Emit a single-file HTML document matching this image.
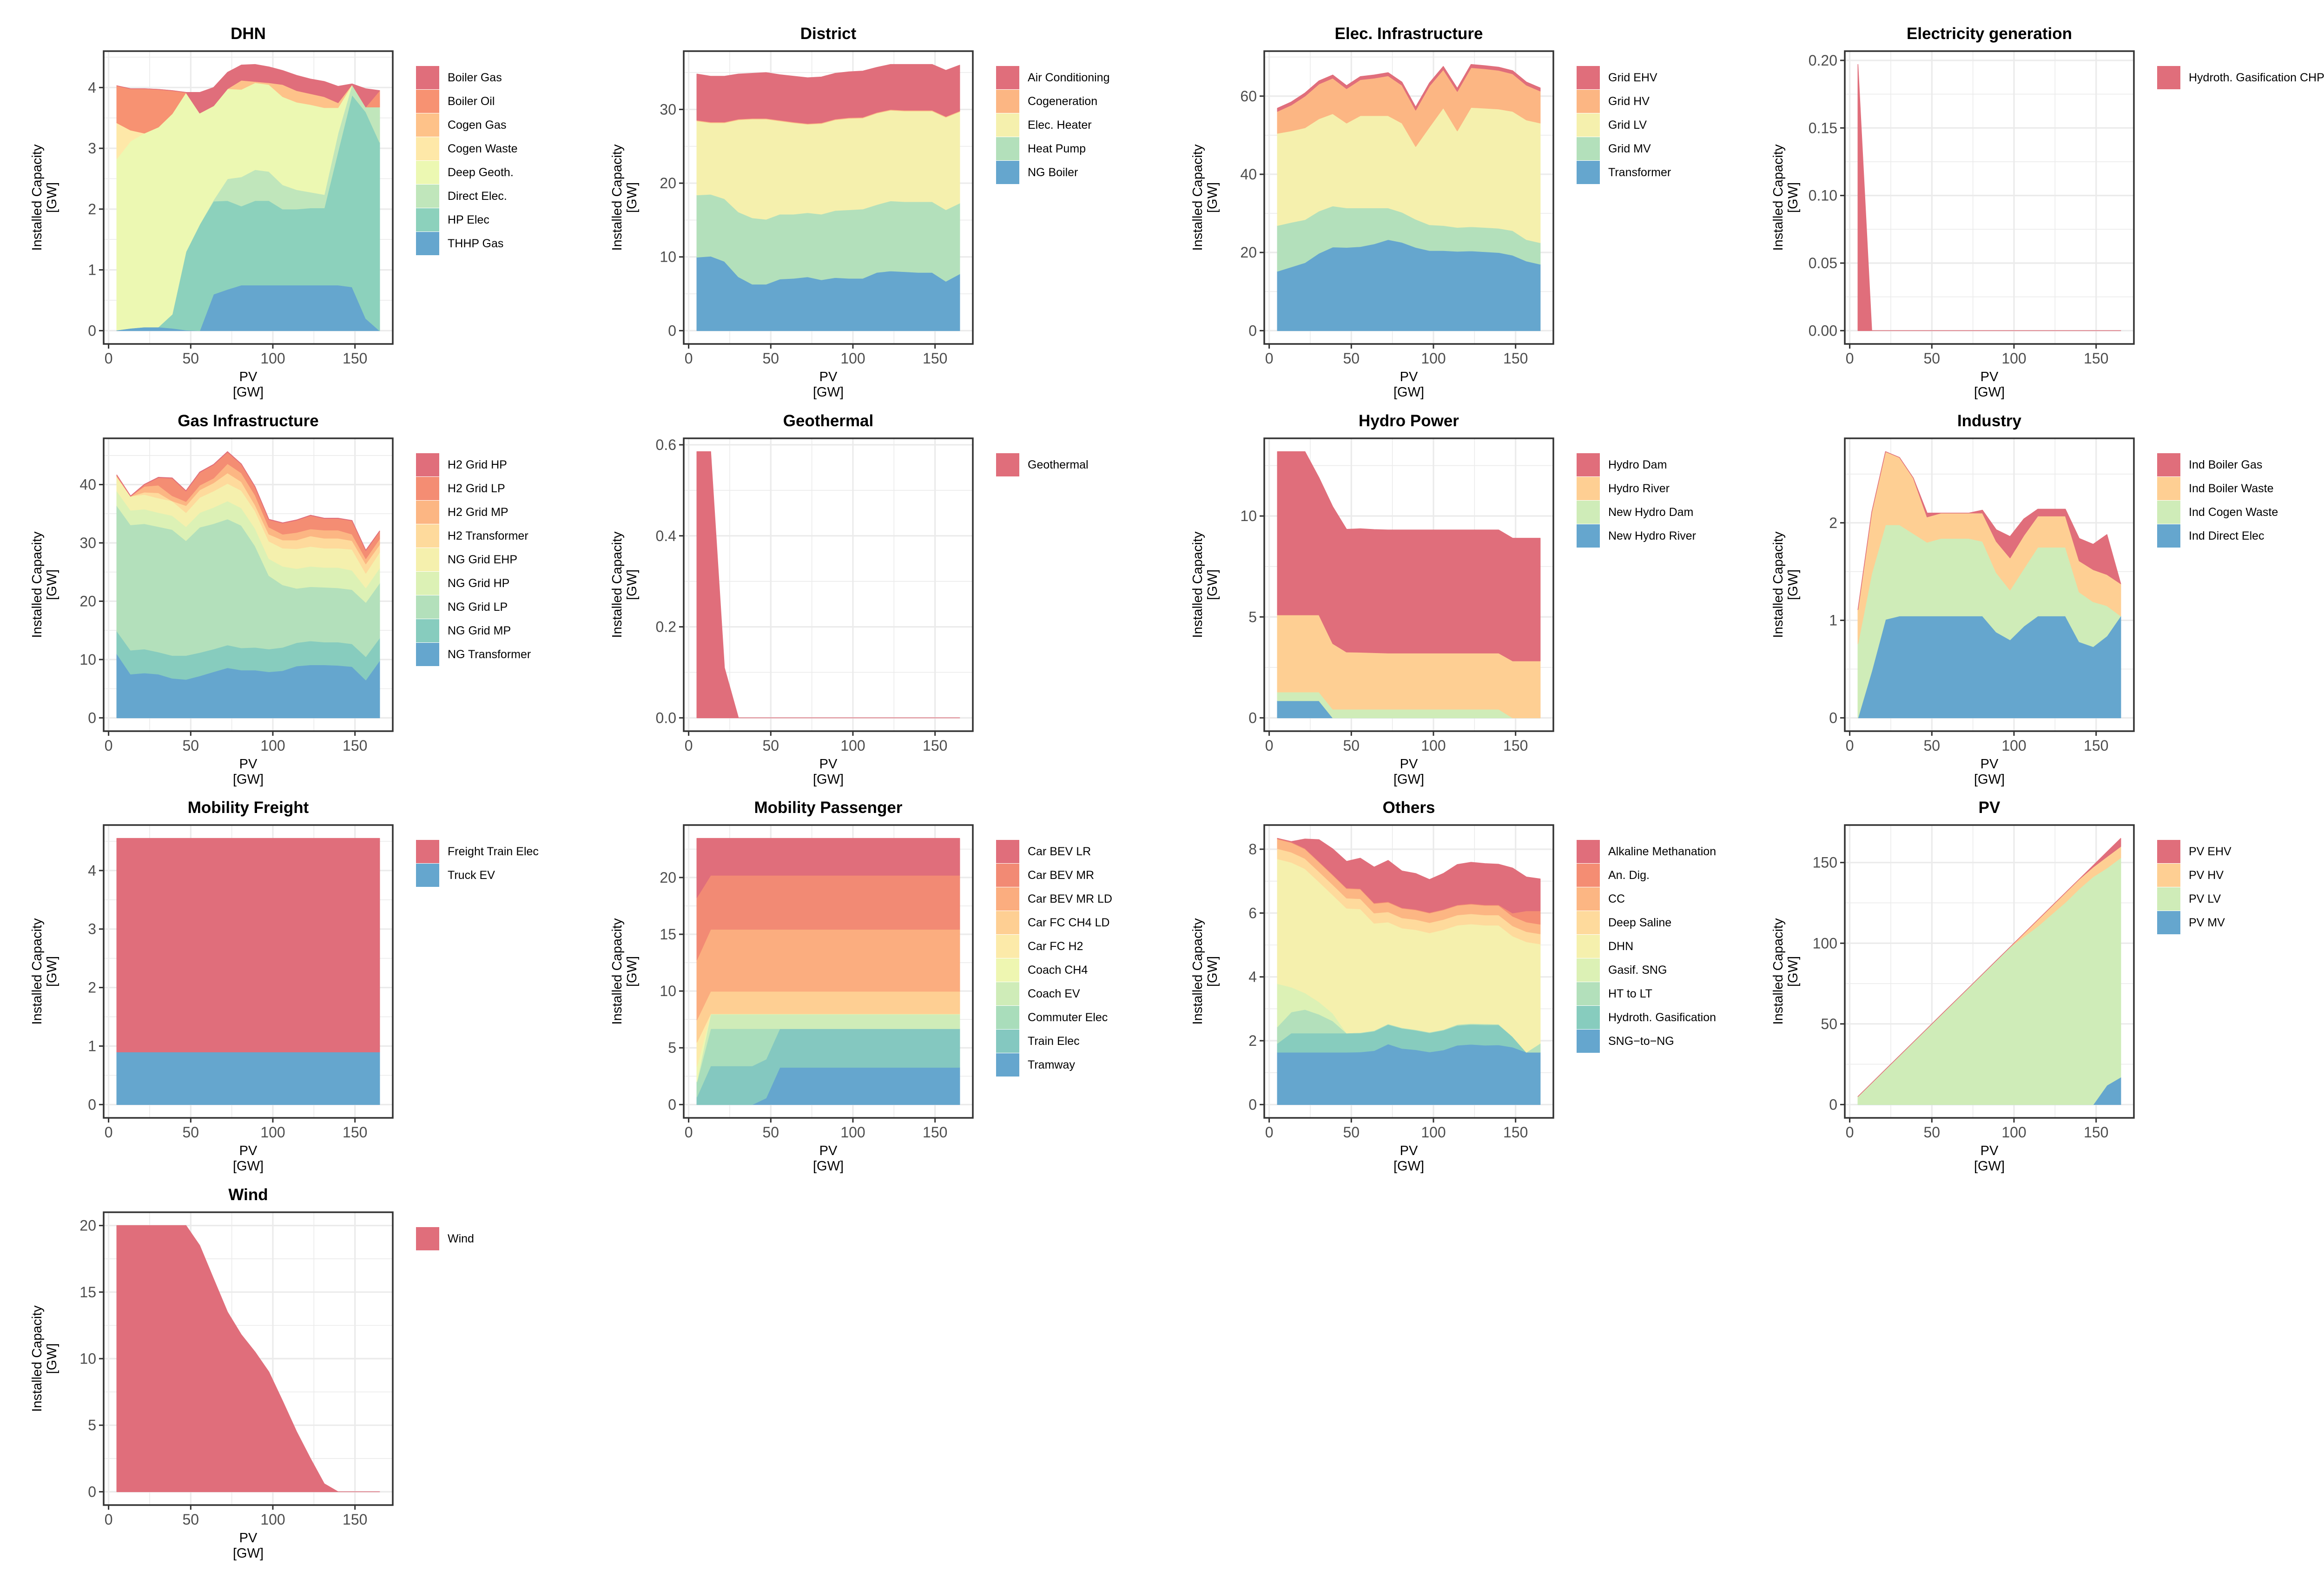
<!DOCTYPE html>
<html><head><meta charset="utf-8">
<style>
html,body{margin:0;padding:0;background:#fff;}
svg{display:block;font-family:"Liberation Sans",Arial,sans-serif;}
</style></head>
<body>
<svg id="chart" width="5037" height="3382" viewBox="0 0 5037 3382" xmlns="http://www.w3.org/2000/svg">
<rect x="0" y="0" width="5037" height="3382" fill="#ffffff"/>
</svg>
<script>
// ---------- shared x values (PV scenarios, GW) ----------
const pvValues = [5,13.4,21.8,30.3,38.7,47.1,55.5,63.9,72.4,80.8,89.2,97.6,106,114.5,122.9,131.3,139.7,148.2,156.6,165];

// ---------- DHN ----------
const dhnNames = ["Boiler Gas","Boiler Oil","Cogen Gas","Cogen Waste","Deep Geoth.","Direct Elec.","HP Elec","THHP Gas"];
const dhnBoilerGas = [0,0,0,0,0,0,0.34,0.3,0.27,0.25,0.28,0.26,0.23,0.25,0.24,0.25,0.27,0.01,0.3,0];
const dhnBoilerOil = [0.61,0.68,0.73,0.62,0.38,0,0,0,0,0,0,0,0,0,0,0,0,0,0,0.27];
const dhnCogenGas = [0,0,0,0,0,0,0,0,0,0.15,0.02,0.03,0.2,0.19,0.18,0.18,0.08,0,0,0];
const dhnCogenWaste = [0.59,0.18,0,0,0,0,0,0,0,0,0,0,0,0,0,0,0,0,0,0];
const dhnDeepGeoth = [2.82,3.08,3.19,3.29,3.3,2.62,1.83,1.55,1.48,1.44,1.43,1.43,1.45,1.44,1.44,1.43,0.42,0,0,0];
const dhnDirectElec = [0,0,0,0,0,0,0,0.02,0.36,0.48,0.51,0.48,0.4,0.32,0.26,0.22,0.3,0.17,0.08,0.58];
const dhnHpElec = [0,0,0,0,0.23,1.29,1.75,1.53,1.46,1.3,1.39,1.39,1.25,1.25,1.27,1.27,2.2,3.16,3.4,3.1];
const dhnThhpGas = [0.01,0.04,0.06,0.06,0.04,0.01,0,0.6,0.68,0.75,0.75,0.75,0.75,0.75,0.75,0.75,0.75,0.72,0.2,0];
const dhnTicks = [0,1,2,3,4];

// ---------- District ----------
const distNames = ["Air Conditioning","Cogeneration","Elec. Heater","Heat Pump","NG Boiler"];
const distAirCond = [6.25,6.2,6.2,6.1,6.1,6.2,6.15,6.2,6.2,6.2,6.2,6.2,6.25,6.1,6.1,6.2,6.2,6.2,6.25,6.2];
const distCogen = [0.1,0.1,0.1,0.1,0.1,0.1,0.1,0.1,0.1,0.1,0.1,0.1,0.1,0.1,0.1,0.1,0.1,0.1,0.1,0.1];
const distElecHeater = [10.05,9.7,10.3,12.5,13.4,13.6,12.65,12.4,12.0,12.3,12.3,12.4,12.35,12.4,12.3,12.3,12.3,12.3,12.55,12.4];
const distHeatPump = [8.43,8.4,8.5,8.8,9.0,8.8,8.8,8.7,8.7,8.9,9.1,9.3,9.4,9.2,9.5,9.5,9.6,9.6,9.7,9.6];
const distNgBoiler = [9.97,10.1,9.4,7.3,6.3,6.3,7.0,7.1,7.3,6.9,7.2,7.1,7.1,7.9,8.1,8.0,7.9,7.9,6.7,7.7];
const distTicks = [0,10,20,30];

// ---------- Elec. Infrastructure ----------
const elecNames = ["Grid EHV","Grid HV","Grid LV","Grid MV","Transformer"];
const elecGridEhv = [0.8,0.8,0.8,0.8,0.8,0.8,0.8,0.8,0.8,0.8,0.8,0.8,0.8,0.8,0.8,0.8,0.8,0.8,0.8,0.8];
const elecGridHv = [5.6,6.6,8.1,8.9,9.1,8.8,9.2,9.6,10.2,9.7,9.3,10.5,9.8,10.1,10.2,10.1,9.9,9.6,8.9,8.2];
const elecGridLv = [23.6,23.4,23.5,23.6,23.6,21.7,23.6,23.6,23.6,22.8,18.6,25.0,30.1,24.7,30.5,30.5,30.5,30.5,30.6,30.6];
const elecGridMv = [11.7,11.4,11.0,10.8,10.5,10.1,9.9,9.2,8.1,7.7,7.2,6.6,6.4,6.1,6.2,6.2,6.2,6.3,5.5,5.5];
const elecTransformer = [15.2,16.3,17.4,19.8,21.4,21.3,21.5,22.2,23.3,22.6,21.3,20.5,20.5,20.3,20.4,20.2,20.0,19.3,17.8,17.0];
const elecTicks = [0,20,40,60];

// ---------- Electricity generation ----------
const genNames = ["Hydroth. Gasification CHP"];
const genHydrothChp = [0.197,0,0,0,0,0,0,0,0,0,0,0,0,0,0,0,0,0,0,0];
const genTicks = [0,0.05,0.10,0.15,0.20];

// ---------- Gas Infrastructure ----------
const gasNames = ["H2 Grid HP","H2 Grid LP","H2 Grid MP","H2 Transformer","NG Grid EHP","NG Grid HP","NG Grid LP","NG Grid MP","NG Transformer"];
const gasH2Hp = [0.05,0.05,0.05,0.05,0.05,0.05,0.05,0.05,0.05,0.05,0.05,0.05,0.05,0.05,0.05,0.05,0.05,0.05,0.05,0.05];
const gasH2Lp = [0.1,0,0.3,1.3,3.0,1.8,2.2,2.3,2.0,1.5,1.4,1.3,1.9,2.1,2.3,2.0,2.0,2.3,1.4,1.3];
const gasH2Mp = [0.1,0,1.0,1.3,0.9,0.7,0.8,0.8,1.6,1.5,1.7,1.2,1.0,1.3,1.2,1.4,1.4,1.1,0.9,1.0];
const gasH2Transformer = [0.1,0,0.4,0.9,0,1.2,1.3,1.4,1.8,1.5,1.0,1.2,1.4,1.5,1.8,1.7,1.7,1.5,1.6,1.3];
const gasNgEhp = [2.4,2.4,2.5,2.5,2.5,2.4,2.6,2.8,3.0,3.0,3.0,3.0,3.1,3.4,3.4,3.3,3.3,3.6,2.5,2.7];
const gasNgHp = [2.5,2.5,2.5,2.4,2.4,2.4,2.5,2.8,3.1,3.0,3.0,2.9,3.2,3.4,3.5,3.4,3.5,3.3,2.5,2.6];
const gasNgLp = [21.5,21.5,21.5,21.5,21.6,19.7,21.5,21.5,21.6,21.0,17.4,12.6,10.7,9.3,9.3,9.4,9.3,9.3,9.3,9.4];
const gasNgMp = [3.9,4.1,4.1,3.8,3.9,4.1,4.0,3.9,3.9,3.8,3.9,3.9,4.0,4.0,4.1,3.9,4.0,3.9,4.0,3.9];
const gasNgTransformer = [11.0,7.5,7.7,7.5,6.8,6.6,7.2,7.9,8.6,8.2,8.2,7.9,8.1,8.9,9.1,9.1,9.0,8.8,6.5,9.8];
const gasTicks = [0,10,20,30,40];

// ---------- Geothermal ----------
const geoNames = ["Geothermal"];
const geoGeothermal = [0.585,0.585,0.11,0,0,0,0,0,0,0,0,0,0,0,0,0,0,0,0,0];
const geoTicks = [0,0.2,0.4,0.6];

// ---------- Hydro Power ----------
const hydroNames = ["Hydro Dam","Hydro River","New Hydro Dam","New Hydro River"];
const hydroDam = [8.09,8.09,8.09,6.8,6.78,6.08,6.12,6.1,6.1,6.1,6.1,6.1,6.1,6.1,6.1,6.1,6.1,6.08,6.08,6.08];
const hydroRiver = [3.82,3.82,3.82,3.82,3.25,2.83,2.82,2.8,2.78,2.78,2.78,2.78,2.78,2.78,2.78,2.78,2.78,2.82,2.82,2.82];
const hydroNewDam = [0.43,0.43,0.43,0.43,0.43,0.43,0.43,0.43,0.43,0.43,0.43,0.43,0.43,0.43,0.43,0.43,0.43,0,0,0];
const hydroNewRiver = [0.85,0.85,0.85,0.85,0,0,0,0,0,0,0,0,0,0,0,0,0,0,0,0];
const hydroTicks = [0,5,10];

// ---------- Industry ----------
const indNames = ["Ind Boiler Gas","Ind Boiler Waste","Ind Cogen Waste","Ind Direct Elec"];
const indBoilerGas = [0,0,0,0,0,0.04,0,0,0,0.03,0.12,0.22,0.17,0.07,0.07,0.07,0.23,0.26,0.41,0];
const indBoilerWaste = [0.35,0.63,0.75,0.69,0.57,0.26,0.26,0.26,0.26,0.29,0.32,0.33,0.34,0.32,0.32,0.32,0.32,0.33,0.32,0.33];
const indCogenWaste = [0.76,1.0,0.97,0.935,0.845,0.755,0.795,0.795,0.795,0.765,0.61,0.51,0.59,0.705,0.705,0.705,0.51,0.46,0.31,0];
const indDirectElec = [0,0.48,1.01,1.045,1.045,1.045,1.045,1.045,1.045,1.045,0.88,0.8,0.94,1.045,1.045,1.045,0.78,0.73,0.84,1.045];
const indTicks = [0,1,2];

// ---------- Mobility Freight ----------
const frNames = ["Freight Train Elec","Truck EV"];
const frTrain = [3.65,3.65,3.65,3.65,3.65,3.65,3.65,3.65,3.65,3.65,3.65,3.65,3.65,3.65,3.65,3.65,3.65,3.65,3.65,3.65];
const frTruck = [0.9,0.9,0.9,0.9,0.9,0.9,0.9,0.9,0.9,0.9,0.9,0.9,0.9,0.9,0.9,0.9,0.9,0.9,0.9,0.9];
const frTicks = [0,1,2,3,4];

// ---------- Mobility Passenger ----------
const paxNames = ["Car BEV LR","Car BEV MR","Car BEV MR LD","Car FC CH4 LD","Car FC H2","Coach CH4","Coach EV","Commuter Elec","Train Elec","Tramway"];
const paxBevLr = [5.21,3.25,3.25,3.25,3.25,3.25,3.25,3.25,3.25,3.25,3.25,3.25,3.25,3.25,3.25,3.25,3.25,3.25,3.25,3.25];
const paxBevMr = [5.49,4.76,4.76,4.76,4.76,4.76,4.76,4.76,4.76,4.76,4.76,4.76,4.76,4.76,4.76,4.76,4.76,4.76,4.76,4.76];
const paxBevMrLd = [5.29,5.46,5.46,5.46,5.46,5.46,5.46,5.46,5.46,5.46,5.46,5.46,5.46,5.46,5.46,5.46,5.46,5.46,5.46,5.46];
const paxFcCh4Ld = [1.97,1.98,1.98,1.98,1.98,1.98,1.98,1.98,1.98,1.98,1.98,1.98,1.98,1.98,1.98,1.98,1.98,1.98,1.98,1.98];
const paxFcH2 = [2.13,0,0,0,0,0,0,0,0,0,0,0,0,0,0,0,0,0,0,0];
const paxCoachCh4 = [1.31,0.03,0.03,0.03,0.03,0.03,0.03,0.03,0.03,0.03,0.03,0.03,0.03,0.03,0.03,0.03,0.03,0.03,0.03,0.03];
const paxCoachEv = [0.05,1.28,1.28,1.28,1.28,1.28,1.28,1.28,1.28,1.28,1.28,1.28,1.28,1.28,1.28,1.28,1.28,1.28,1.28,1.28];
const paxCommuter = [1.32,3.28,3.28,3.28,3.28,2.69,0,0,0,0,0,0,0,0,0,0,0,0,0,0];
const paxTrain = [0.68,3.41,3.41,3.41,3.41,3.42,3.41,3.41,3.41,3.41,3.41,3.41,3.41,3.41,3.41,3.41,3.41,3.41,3.41,3.41];
const paxTramway = [0,0,0,0,0,0.58,3.28,3.28,3.28,3.28,3.28,3.28,3.28,3.28,3.28,3.28,3.28,3.28,3.28,3.28];
const paxTicks = [0,5,10,15,20];

// ---------- Others ----------
const othNames = ["Alkaline Methanation","An. Dig.","CC","Deep Saline","DHN","Gasif. SNG","HT to LT","Hydroth. Gasification","SNG\u2212to\u2212NG"];
const othAlkMeth = [0,0.01,0.29,0.68,0.8,0.83,0.95,1.12,1.29,1.15,1.12,1.03,1.12,1.26,1.29,1.29,1.27,1.41,1.06,1.0];
const othAnDig = [0.02,0.02,0.02,0.02,0.02,0.02,0.02,0.02,0.02,0.02,0.02,0.02,0.02,0.02,0.02,0.02,0.02,0.1,0.35,0.42];
const othCc = [0.3,0.3,0.3,0.3,0.3,0.3,0.3,0.3,0.3,0.3,0.3,0.3,0.3,0.3,0.3,0.3,0.3,0.3,0.3,0.3];
const othDeepSaline = [0.32,0.32,0.32,0.32,0.32,0.32,0.32,0.32,0.32,0.32,0.32,0.32,0.32,0.32,0.32,0.32,0.32,0.32,0.32,0.32];
const othDhn = [3.91,3.91,3.89,3.76,3.71,3.91,3.87,3.36,3.19,3.12,3.13,3.11,3.13,3.11,3.12,3.09,3.1,3.15,3.46,3.11];
const othGasifSng = [1.35,0.78,0.52,0.39,0.24,0,0,0,0,0,0,0,0,0,0,0,0,0,0,0];
const othHtToLt = [0.52,0.66,0.74,0.59,0.38,0,0.02,0.02,0.02,0.02,0.02,0.02,0.02,0.03,0.03,0.03,0.02,0,0,0.28];
const othHydrothGasif = [0.28,0.6,0.6,0.6,0.6,0.6,0.59,0.61,0.61,0.63,0.61,0.6,0.62,0.62,0.62,0.64,0.63,0.33,0,0];
const othSngToNg = [1.64,1.64,1.64,1.64,1.64,1.64,1.65,1.69,1.9,1.76,1.72,1.65,1.71,1.86,1.89,1.86,1.87,1.8,1.64,1.64];
const othTicks = [0,2,4,6,8];

// ---------- PV ----------
const pvNames = ["PV EHV","PV HV","PV LV","PV MV"];
const pvEhv = [0,0,0,0,0,0,0,0,0,0,0,0,0,0,0,0,0,1,3,5];
const pvHv = [0,0,0,0,0,0,0,0,0,0,0,0,2,4,5,6,6,6,7,7];
const pvLv = [5,13.4,21.8,30.3,38.7,47.1,55.5,63.9,72.4,80.8,89.2,97.6,104,110.5,117.9,125.3,133.7,141.2,134.6,136];
const pvMv = [0,0,0,0,0,0,0,0,0,0,0,0,0,0,0,0,0,0,12,17];
const pvTicks = [0,50,100,150];

// ---------- Wind ----------
const windNames = ["Wind"];
const windWind = [20,20,20,20,20,20,18.5,16,13.5,11.8,10.5,9,6.8,4.5,2.5,0.6,0,0,0,0];
const windTicks = [0,5,10,15,20];

const xTicks = [0,50,100,150];
const xMinor = [25,75,125];

// panel definitions (legend order: top of stack first)
const panels = [
 {title:"DHN", names:dhnNames, series:[dhnBoilerGas,dhnBoilerOil,dhnCogenGas,dhnCogenWaste,dhnDeepGeoth,dhnDirectElec,dhnHpElec,dhnThhpGas], ticks:dhnTicks, dec:0},
 {title:"District", names:distNames, series:[distAirCond,distCogen,distElecHeater,distHeatPump,distNgBoiler], ticks:distTicks, dec:0},
 {title:"Elec. Infrastructure", names:elecNames, series:[elecGridEhv,elecGridHv,elecGridLv,elecGridMv,elecTransformer], ticks:elecTicks, dec:0},
 {title:"Electricity generation", names:genNames, series:[genHydrothChp], ticks:genTicks, dec:2},
 {title:"Gas Infrastructure", names:gasNames, series:[gasH2Hp,gasH2Lp,gasH2Mp,gasH2Transformer,gasNgEhp,gasNgHp,gasNgLp,gasNgMp,gasNgTransformer], ticks:gasTicks, dec:0},
 {title:"Geothermal", names:geoNames, series:[geoGeothermal], ticks:geoTicks, dec:1},
 {title:"Hydro Power", names:hydroNames, series:[hydroDam,hydroRiver,hydroNewDam,hydroNewRiver], ticks:hydroTicks, dec:0},
 {title:"Industry", names:indNames, series:[indBoilerGas,indBoilerWaste,indCogenWaste,indDirectElec], ticks:indTicks, dec:0},
 {title:"Mobility Freight", names:frNames, series:[frTrain,frTruck], ticks:frTicks, dec:0},
 {title:"Mobility Passenger", names:paxNames, series:[paxBevLr,paxBevMr,paxBevMrLd,paxFcCh4Ld,paxFcH2,paxCoachCh4,paxCoachEv,paxCommuter,paxTrain,paxTramway], ticks:paxTicks, dec:0},
 {title:"Others", names:othNames, series:[othAlkMeth,othAnDig,othCc,othDeepSaline,othDhn,othGasifSng,othHtToLt,othHydrothGasif,othSngToNg], ticks:othTicks, dec:0},
 {title:"PV", names:pvNames, series:[pvEhv,pvHv,pvLv,pvMv], ticks:pvTicks, dec:0},
 {title:"Wind", names:windNames, series:[windWind], ticks:windTicks, dec:0}
];

const COLS=[223,1471,2720,3969], ROWS=[110,943,1775,2608], PW=622, PH=630;
const SPECTRAL=["#D53E4F","#F46D43","#FDAE61","#FEE08B","#E6F598","#ABDDA4","#66C2A5","#3288BD"];
const NS="http://www.w3.org/2000/svg";
const svg=document.getElementById("chart");

function hex2rgb(h){return [parseInt(h.substr(1,2),16),parseInt(h.substr(3,2),16),parseInt(h.substr(5,2),16)];}
function ramp(n){
  const out=[];
  for(let i=0;i<n;i++){
    const t = n===1?0:i/(n-1)*(SPECTRAL.length-1);
    const a=Math.floor(t), b=Math.min(a+1,SPECTRAL.length-1), f=t-a;
    const ca=hex2rgb(SPECTRAL[a]), cb=hex2rgb(SPECTRAL[b]);
    const c=ca.map((v,k)=>Math.round((v+(cb[k]-v)*f)*0.75+255*0.25));
    out.push("rgb("+c.join(",")+")");
  }
  return out;
}
function mk(tag,attrs,parent){
  const e=document.createElementNS(NS,tag);
  for(const k in attrs) e.setAttribute(k,attrs[k]);
  (parent||svg).appendChild(e);
  return e;
}
function slug(s){return s.toLowerCase().replace(/[^a-z0-9]+/g,"-").replace(/^-|-$/g,"");}

panels.forEach((p,pi)=>{
  const L=COLS[pi%4], T=ROWS[Math.floor(pi/4)];
  const g=mk("g",{});
  
  
  const n=p.series.length;
  // stacked totals
  const totals=pvValues.map((_,i)=>p.series.reduce((s,a)=>s+a[i],0));
  const ymax=Math.max(...totals, p.ticks[p.ticks.length-1]*0 );
  const lo=-0.05*ymax, hi=1.05*ymax;
  const sx=x=>L+(x+3)/176*PW;
  const sy=y=>T+PH-(y-lo)/(hi-lo)*PH;

  // gridlines
  xMinor.forEach(v=>{
    const ln=mk("line",{x1:sx(v),x2:sx(v),y1:T,y2:T+PH,stroke:"#ebebeb","stroke-width":1.6},g);
    
    
  });
  const step=p.ticks[1]-p.ticks[0];
  const yMinor=[];
  p.ticks.forEach(v=>{const m=v+step/2; if(m<hi) yMinor.push(m);});
  yMinor.forEach(v=>{
    const ln=mk("line",{x1:L,x2:L+PW,y1:sy(v),y2:sy(v),stroke:"#ebebeb","stroke-width":1.6},g);
    
    
  });
  xTicks.forEach(v=>{
    const ln=mk("line",{x1:sx(v),x2:sx(v),y1:T,y2:T+PH,stroke:"#ebebeb","stroke-width":3.2},g);
    
    
  });
  p.ticks.forEach(v=>{
    const ln=mk("line",{x1:L,x2:L+PW,y1:sy(v),y2:sy(v),stroke:"#ebebeb","stroke-width":3.2},g);
    
    
  });

  // areas (bottom series = last)
  const cols=ramp(n);
  const base=pvValues.map(()=>0);
  for(let s=n-1;s>=0;s--){
    const vals=p.series[s];
    const top=base.map((b,i)=>b+vals[i]);
    let d="M";
    pvValues.forEach((x,i)=>{d+=(i?" L":"")+sx(x).toFixed(1)+","+sy(top[i]).toFixed(1);});
    for(let i=pvValues.length-1;i>=0;i--) d+=" L"+sx(pvValues[i]).toFixed(1)+","+sy(base[i]).toFixed(1);
    d+=" Z";
    const path=mk("path",{d:d,fill:cols[s],stroke:cols[s],"stroke-width":1.5,"stroke-linejoin":"round"},g);
    
    
    for(let i=0;i<base.length;i++) base[i]=top[i];
  }

  // border
  const br=mk("rect",{x:L,y:T,width:PW,height:PH,fill:"none",stroke:"#333333","stroke-width":3.5},g);
  
  

  // y ticks
  p.ticks.forEach(v=>{
    const tk=mk("line",{x1:L-10,x2:L,y1:sy(v),y2:sy(v),stroke:"#333333","stroke-width":3},g);
    
    
    const tx=mk("text",{x:L-16,y:sy(v),"text-anchor":"end","dominant-baseline":"central","font-size":32,fill:"#4d4d4d"},g);
    tx.textContent=v.toFixed(p.dec);
    
    
  });
  // x ticks
  xTicks.forEach(v=>{
    const tk=mk("line",{x1:sx(v),x2:sx(v),y1:T+PH,y2:T+PH+10,stroke:"#333333","stroke-width":3},g);
    
    
    const tx=mk("text",{x:sx(v),y:T+PH+42,"text-anchor":"middle","font-size":32,fill:"#4d4d4d"},g);
    tx.textContent=String(v);
    
    
  });

  // titles
  const tt=mk("text",{x:L+PW/2,y:T-26,"text-anchor":"middle","font-size":35,"font-weight":"bold",fill:"#000"},g);
  tt.textContent=p.title;
  
  
  const xt1=mk("text",{x:L+PW/2,y:T+PH+80,"text-anchor":"middle","font-size":29,fill:"#000"},g);
  xt1.textContent="PV";
  
  
  const xt2=mk("text",{x:L+PW/2,y:T+PH+113,"text-anchor":"middle","font-size":29,fill:"#000"},g);
  xt2.textContent="[GW]";
  
  
  const cy=T+PH/2;
  const yt1=mk("text",{x:L-143,y:cy,"text-anchor":"middle","dominant-baseline":"central","font-size":29,fill:"#000",transform:"rotate(-90 "+(L-143)+" "+cy+")"},g);
  yt1.textContent="Installed Capacity";
  
  
  const yt2=mk("text",{x:L-111,y:cy,"text-anchor":"middle","dominant-baseline":"central","font-size":29,fill:"#000",transform:"rotate(-90 "+(L-111)+" "+cy+")"},g);
  yt2.textContent="[GW]";
  
  

  // legend
  p.names.forEach((nm,k)=>{
    const ky=T+32+k*51;
    const r=mk("rect",{x:L+PW+50,y:ky,width:50,height:50,fill:cols[k]},g);
    
    
    const tx=mk("text",{x:L+PW+68+50,y:ky+25,"dominant-baseline":"central","font-size":25,fill:"#000"},g);
    tx.textContent=nm;
    
    
  });
});
</script>
</body></html>
